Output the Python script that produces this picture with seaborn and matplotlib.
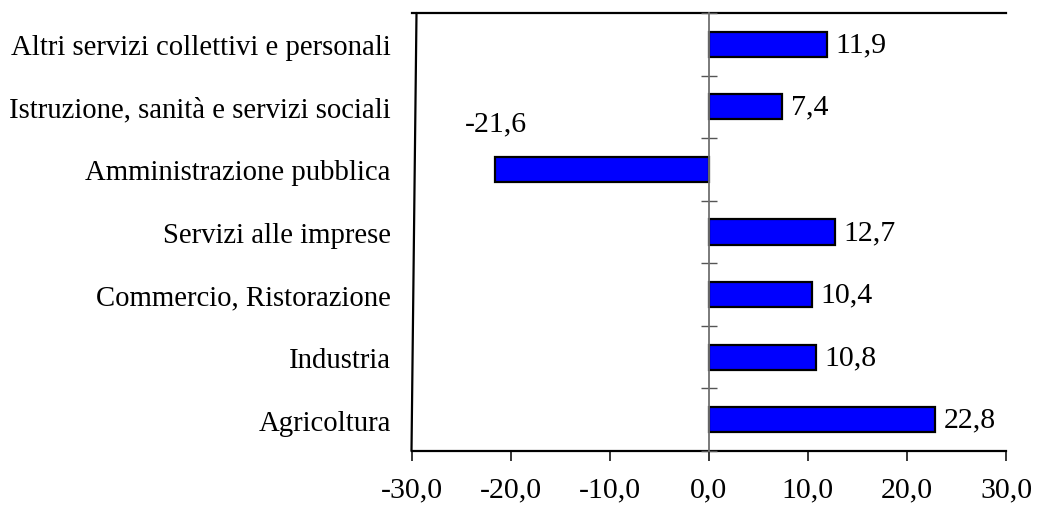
import matplotlib
matplotlib.use("Agg")
import matplotlib.pyplot as plt
import seaborn as sns
import numpy as np
import pandas as pd

categories = [
    "Altri servizi collettivi e personali",
    "Istruzione, sanità e servizi sociali",
    "Amministrazione pubblica",
    "Servizi alle imprese",
    "Commercio, Ristorazione",
    "Industria",
    "Agricoltura",
]
values = [11.9, 7.4, -21.6, 12.7, 10.4, 10.8, 22.8]
xticks = [-30, -20, -10, 0, 10, 20, 30]

sns.set_theme(style="white")
plt.rcParams["font.family"] = ["Liberation Serif", "DejaVu Serif"]

df = pd.DataFrame({"cat": categories, "val": values})

fig = plt.figure(figsize=(10.37, 5.06), dpi=100)
ax = fig.add_axes([411.5 / 1037, 1 - 452 / 506, (1006 - 411.5) / 1037, (452 - 14) / 506])

sns.barplot(data=df, y="cat", x="val", orient="h", color="#0000FF",
            saturation=1, edgecolor="black", linewidth=1.6, width=0.4, ax=ax)

n = len(categories)
ax.set_xlim(-30, 30)
ax.set_ylim(n - 0.5, -0.5)
ax.set_xticks(xticks)
ax.set_xticklabels([f"{v:.1f}".replace(".", ",") for v in xticks])
ax.set_xlabel("")
ax.set_ylabel("")
ax.tick_params(axis="x", direction="out", length=7, width=1.1, color="black",
               labelsize=21.5, pad=11, bottom=True)
ax.tick_params(axis="y", length=0, labelsize=20.7, pad=15)
for lab in ax.get_yticklabels():
    lab.set_color("black")
for lab in ax.get_xticklabels():
    lab.set_color("black")

for s in ["left", "right"]:
    ax.spines[s].set_visible(False)
for s in ["top", "bottom"]:
    ax.spines[s].set_visible(True)
    ax.spines[s].set_color("black")
    ax.spines[s].set_linewidth(1.6)

# slanted left border as in the original
ax.plot([0, 5 / 594.5], [0, 1], transform=ax.transAxes, color="black",
        lw=1.6, clip_on=False)

# zero axis with category-boundary ticks
ax2 = ax.twinx()
ax2.set_ylim(ax.get_ylim())
for s in ["left", "top", "bottom"]:
    ax2.spines[s].set_visible(False)
ax2.spines["right"].set_position(("data", 0))
ax2.spines["right"].set_color("#707070")
ax2.spines["right"].set_linewidth(1.3)
ax2.set_yticks(np.arange(n + 1) - 0.5)
ax2.set_yticklabels([])
ax2.tick_params(axis="y", direction="inout", length=12, width=1, color="#555555")
ax2.grid(False)

# value labels
for i, v in enumerate(values):
    txt = f"{v:.1f}".replace(".", ",")
    if v >= 0:
        ax.annotate(txt, (v, i), xytext=(9, 0), textcoords="offset pixels",
                    ha="left", va="center", fontsize=21.5, color="black")
    else:
        ax.annotate(txt, (v, i), xytext=(1, 46), textcoords="offset pixels",
                    ha="center", va="center", fontsize=21.5, color="black")

fig.savefig("out.png", dpi=100, facecolor="white")
